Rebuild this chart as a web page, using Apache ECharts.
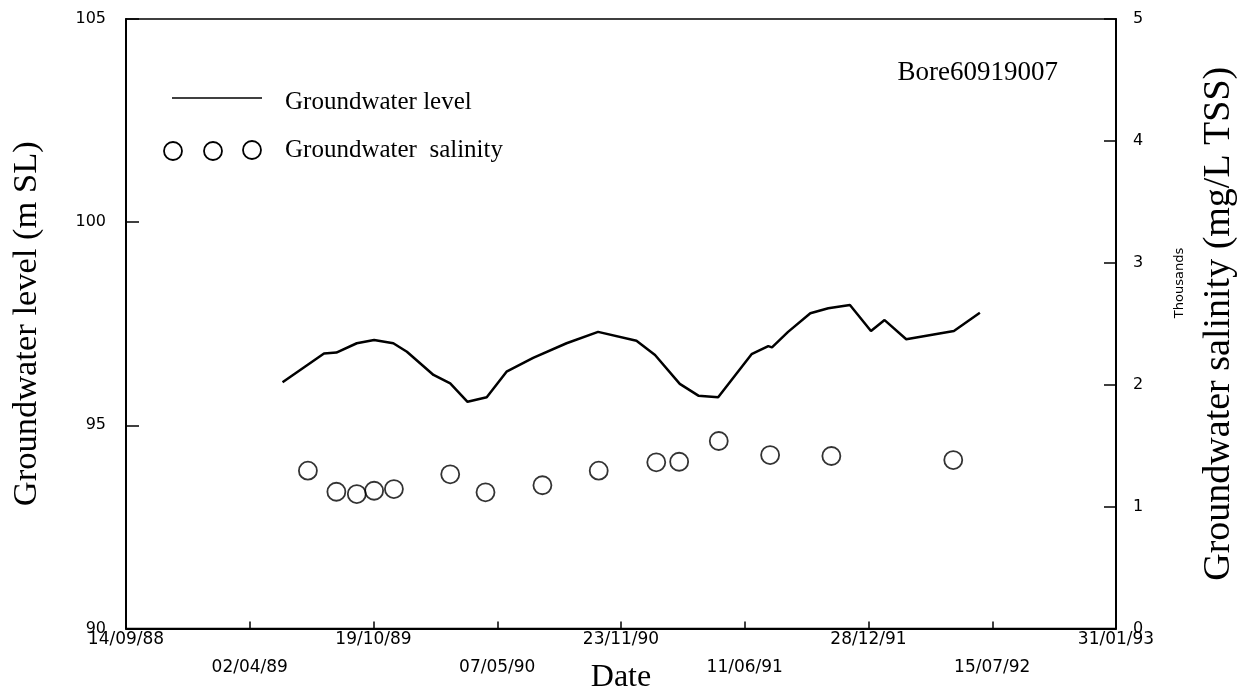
<!DOCTYPE html>
<html>
<head>
<meta charset="utf-8">
<title>Bore60919007</title>
<script src="https://cdn.jsdelivr.net/npm/echarts@6/dist/echarts.min.js"></script>
<style>
  html, body { margin: 0; padding: 0; background: #fff; }
  #chart { width: 1239px; height: 692px; }
</style>
</head>
<body>
<div id="chart"></div>
<script>
// Groundwater level readings (m above sea level)
const levelDates = [
  '1989-05-25', '1989-07-31', '1989-08-20', '1989-09-22', '1989-10-20',
  '1989-11-20', '1989-12-12', '1990-01-24', '1990-02-20', '1990-03-20',
  '1990-04-20', '1990-05-22', '1990-07-04', '1990-08-27', '1990-10-17',
  '1990-12-18', '1991-01-17', '1991-02-26', '1991-03-28', '1991-04-29',
  '1991-06-22', '1991-07-19', '1991-07-25', '1991-08-20', '1991-09-25',
  '1991-10-24', '1991-11-28', '1992-01-01', '1992-01-23', '1992-02-27',
  '1992-05-14', '1992-06-25'
];
const levelValues = [
  96.06, 96.77, 96.79, 97.02, 97.10,
  97.02, 96.81, 96.24, 96.03, 95.58,
  95.69, 96.32, 96.66, 97.02, 97.30,
  97.08, 96.73, 96.02, 95.73, 95.69,
  96.75, 96.95, 96.92, 97.30, 97.76,
  97.88, 97.96, 97.32, 97.59, 97.12,
  97.32, 97.77
];

// Groundwater salinity samples (mg/L TSS)
const salinityDates = [
  '1989-07-05', '1989-08-20', '1989-09-22', '1989-10-20', '1989-11-21',
  '1990-02-20', '1990-04-18', '1990-07-19', '1990-10-18', '1991-01-19',
  '1991-02-25', '1991-04-30', '1991-07-22', '1991-10-29', '1992-05-13'
];
const salinityValues = [
  1295, 1122, 1103, 1130, 1144,
  1265, 1117, 1175, 1295, 1363,
  1368, 1538, 1423, 1415, 1382
];

// Axis ranges and tick steps
const startDate = '1988-09-14';
const dayStep = 200;
const dayCount = 1600;
const levelTicks = [90, 95, 100, 105];
const salinityTicks = [0, 1000, 2000, 3000, 4000, 5000];

const DAY = 86400000;
const t0 = Date.parse(startDate + 'T00:00:00Z');
const toDay = d => Math.round((Date.parse(d + 'T00:00:00Z') - t0) / DAY);
const pad = n => (n < 10 ? '0' : '') + n;
const dayLabel = v => {
  const d = new Date(t0 + v * DAY);
  return pad(d.getUTCDate()) + '/' + pad(d.getUTCMonth() + 1) + '/' + pad(d.getUTCFullYear() % 100);
};

const levelData = levelDates.map((d, i) => [toDay(d), levelValues[i]]);
const salinityData = salinityDates.map((d, i) => [toDay(d), salinityValues[i]]);

const sans = '"DejaVu Sans", sans-serif';
const serif = '"Liberation Serif", "DejaVu Serif", serif';

const chart = echarts.init(document.getElementById('chart'), null, { renderer: 'canvas' });

chart.setOption({
  animation: false,
  backgroundColor: '#fff',
  grid: {
    left: 126, right: 123, top: 19, bottom: 63.5,
    outerBoundsMode: 'none', containLabel: false,
    show: true, borderColor: '#000', borderWidth: 1.5, backgroundColor: 'transparent'
  },
  xAxis: {
    type: 'value',
    min: 0, max: dayCount, interval: dayStep,
    name: 'Date', nameLocation: 'middle', nameGap: 33, nameMoveOverlap: false,
    nameTextStyle: { fontFamily: serif, fontSize: 32, color: '#000' },
    axisLine: { show: true, lineStyle: { color: '#000', width: 2 } },
    axisTick: { show: true, inside: true, length: 7, lineStyle: { color: '#000', width: 1.5 } },
    splitLine: { show: false },
    axisLabel: {
      margin: -3, fontFamily: sans, fontSize: 17, color: '#000', lineHeight: 28,
      showMinLabel: true, showMaxLabel: true, hideOverlap: false,
      formatter: v => (Math.round(v / dayStep) % 2 ? '\n' : '') + dayLabel(v)
    }
  },
  yAxis: [
    {
      type: 'value', position: 'left',
      min: levelTicks[0], max: levelTicks[levelTicks.length - 1], interval: 5,
      name: 'Groundwater level (m SL)', nameLocation: 'middle', nameGap: 82, nameRotate: 90,
      nameMoveOverlap: false,
      nameTextStyle: { fontFamily: serif, fontSize: 34.5, color: '#000' },
      axisLine: { show: true, lineStyle: { color: '#000', width: 2 } },
      axisTick: { show: true, inside: true, length: 13, lineStyle: { color: '#000', width: 1.5 } },
      splitLine: { show: false },
      axisLabel: { margin: 20, fontFamily: sans, fontSize: 16, color: '#000' }
    },
    {
      type: 'value', position: 'right',
      min: salinityTicks[0], max: salinityTicks[salinityTicks.length - 1], interval: 1000,
      name: 'Groundwater salinity (mg/L TSS)', nameLocation: 'middle', nameGap: 84, nameRotate: 90,
      nameMoveOverlap: false,
      nameTextStyle: { fontFamily: serif, fontSize: 38, color: '#000' },
      axisLine: { show: true, lineStyle: { color: '#000', width: 2 } },
      axisTick: { show: true, inside: true, length: 12, lineStyle: { color: '#000', width: 1.5 } },
      splitLine: { show: false },
      axisLabel: { margin: 17, fontFamily: sans, fontSize: 16, color: '#000', formatter: v => String(v / 1000) }
    }
  ],
  series: [
    {
      name: 'Groundwater level', type: 'line', yAxisIndex: 0,
      data: levelData, showSymbol: false, symbol: 'none',
      lineStyle: { color: '#000', width: 2.5 }
    },
    {
      name: 'Groundwater salinity', type: 'scatter', yAxisIndex: 1,
      data: salinityData, symbol: 'circle', symbolSize: 18,
      itemStyle: { color: 'rgba(255,255,255,0)', borderColor: '#000', borderWidth: 1.8 }
    }
  ],
  graphic: [
    // legend: line sample
    { type: 'line', shape: { x1: 172, y1: 98, x2: 262, y2: 98 }, style: { stroke: '#000', lineWidth: 1.5 } },
    { type: 'text', x: 285, y: 102, style: { text: 'Groundwater level', font: '25px ' + serif, fill: '#000', align: 'left', verticalAlign: 'middle' } },
    // legend: three open circles
    { type: 'circle', shape: { cx: 173, cy: 151, r: 9 }, style: { fill: 'none', stroke: '#000', lineWidth: 1.8 } },
    { type: 'circle', shape: { cx: 213, cy: 151, r: 9 }, style: { fill: 'none', stroke: '#000', lineWidth: 1.8 } },
    { type: 'circle', shape: { cx: 252, cy: 150, r: 9 }, style: { fill: 'none', stroke: '#000', lineWidth: 1.8 } },
    { type: 'text', x: 285, y: 150, style: { text: 'Groundwater  salinity', font: '25px ' + serif, fill: '#000', align: 'left', verticalAlign: 'middle' } },
    // bore identifier
    { type: 'text', x: 1058, y: 73, style: { text: 'Bore60919007', font: '27px ' + serif, fill: '#000', align: 'right', verticalAlign: 'middle' } },
    // unit multiplier on the salinity axis
    { type: 'text', x: 1180, y: 283, rotation: Math.PI / 2, style: { text: 'Thousands', font: '13px ' + sans, fill: '#000', align: 'center', verticalAlign: 'middle' } }
  ]
});
</script>
</body>
</html>
